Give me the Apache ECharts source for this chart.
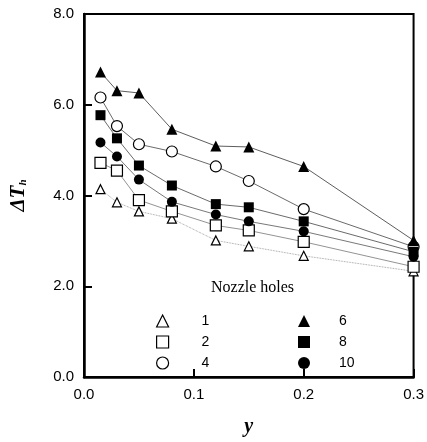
<!DOCTYPE html>
<html>
<head>
<meta charset="utf-8">
<script src="https://cdn.jsdelivr.net/npm/echarts@6/dist/echarts.min.js"></script>
<style>html,body{margin:0;padding:0;background:#fff}#c{width:427px;height:442px}</style>
</head>
<body>
<div id="c"></div>
<script>
const xVals = [0.015, 0.03, 0.05, 0.08, 0.12, 0.15, 0.2, 0.3];
const holes1 = [4.14, 3.85, 3.65, 3.49, 3.01, 2.88, 2.67, 2.33];
const holes2 = [4.72, 4.55, 3.90, 3.65, 3.34, 3.23, 2.98, 2.43];
const holes4 = [6.16, 5.53, 5.13, 4.97, 4.64, 4.32, 3.70, 2.87];
const holes6 = [6.72, 6.31, 6.26, 5.46, 5.09, 5.07, 4.64, 3.01];
const holes8 = [5.77, 5.26, 4.66, 4.22, 3.81, 3.74, 3.43, 2.76];
const holes10 = [5.17, 4.86, 4.35, 3.86, 3.58, 3.43, 3.21, 2.65];
const xTicks = [0, 0.1, 0.2, 0.3];
const yTicks = [0, 2, 4, 6, 8];

const chart = echarts.init(document.getElementById('c'));
const openStyle = {color: '#fff', borderColor: '#000', borderWidth: 1.2};
const fillStyle = {color: '#000', borderColor: '#000', borderWidth: 0};
function mk(name, vals, symbol, open, size, lineColor, lineType) {
  return {
    name: name, type: 'line', data: xVals.map((x, i) => [x, vals[i]]),
    symbol: symbol, symbolSize: size, showSymbol: true, clip: false,
    itemStyle: open ? openStyle : fillStyle,
    lineStyle: {color: lineColor, width: 0.8, type: lineType},
    emphasis: {disabled: true}, z: open ? 3 : 4
  };
}
const series = [
  mk('1', holes1, 'triangle', true, 9, '#888', 'dotted'),
  mk('2', holes2, 'rect', true, 11, '#777', 'solid'),
  mk('4', holes4, 'circle', true, 11, '#444', 'solid'),
  mk('6', holes6, 'triangle', false, 11, '#333', 'solid'),
  mk('8', holes8, 'rect', false, 10, '#444', 'solid'),
  mk('10', holes10, 'circle', false, 10, '#555', 'solid')
];
const tickFont = {fontFamily: 'Liberation Sans, Arial, sans-serif', fontSize: 15, color: '#000'};
const legFont = {fontFamily: 'Liberation Sans, Arial, sans-serif', fontSize: 14, color: '#000'};
chart.setOption({
  animation: false,
  backgroundColor: '#fff',
  grid: {left: 79, top: 14, width: 337, height: 368, show: true, borderColor: '#000', borderWidth: 2, backgroundColor: 'transparent'},
  xAxis: {
    type: 'value', min: 0, max: 0.3, interval: 0.1,
    axisLine: {lineStyle: {color: '#000', width: 2.5}},
    axisTick: {inside: true, length: 8, lineStyle: {color: '#000', width: 2}},
    splitLine: {show: false},
    axisLabel: Object.assign({margin: 10, formatter: v => xTicks.includes(+v.toFixed(1)) ? v.toFixed(1) : ''}, tickFont),
    name: '{i|y}', nameLocation: 'middle', nameGap: 40,
    nameTextStyle: {rich: {i: {fontFamily: 'Liberation Serif, serif', fontStyle: 'italic', fontWeight: 'bold', fontSize: 20, color: '#000'}}}
  },
  yAxis: {
    type: 'value', min: 0, max: 8, interval: 2,
    axisLine: {lineStyle: {color: '#000', width: 2.5}},
    axisTick: {inside: true, length: 8, lineStyle: {color: '#000', width: 2}},
    splitLine: {show: false},
    axisLabel: Object.assign({margin: 10, formatter: v => yTicks.includes(v) ? v.toFixed(1) : ''}, tickFont),
    name: '{a|ΔT}{s|h}', nameLocation: 'middle', nameGap: 55, nameRotate: 90,
    nameTextStyle: {rich: {
      a: {fontFamily: 'Liberation Serif, serif', fontStyle: 'italic', fontWeight: 'bold', fontSize: 21, color: '#000'},
      s: {fontFamily: 'Liberation Serif, serif', fontStyle: 'italic', fontWeight: 'bold', fontSize: 11, color: '#000', padding: [9, 0, 0, 0]}
    }}
  },
  legend: [
    {
      orient: 'vertical', left: 151, top: 309, itemWidth: 12, itemHeight: 12, itemGap: 7,
      data: [
        {name: '1', icon: 'triangle', itemStyle: openStyle},
        {name: '2', icon: 'rect', itemStyle: openStyle},
        {name: '4', icon: 'circle', itemStyle: openStyle}
      ],
      textStyle: Object.assign({padding: [0, 0, 0, 28]}, legFont), selectedMode: false
    },
    {
      orient: 'vertical', left: 293, top: 309, itemWidth: 12, itemHeight: 12, itemGap: 7,
      data: [
        {name: '6', icon: 'triangle', itemStyle: fillStyle},
        {name: '8', icon: 'rect', itemStyle: fillStyle},
        {name: '10', icon: 'circle', itemStyle: fillStyle}
      ],
      textStyle: Object.assign({padding: [0, 0, 0, 24]}, legFont), selectedMode: false
    }
  ],
  graphic: [{
    type: 'text', left: 211, top: 280,
    style: {text: 'Nozzle holes', font: '16px "Liberation Serif", serif', fill: '#000'}
  }],
  series: series
});
</script>
</body>
</html>
